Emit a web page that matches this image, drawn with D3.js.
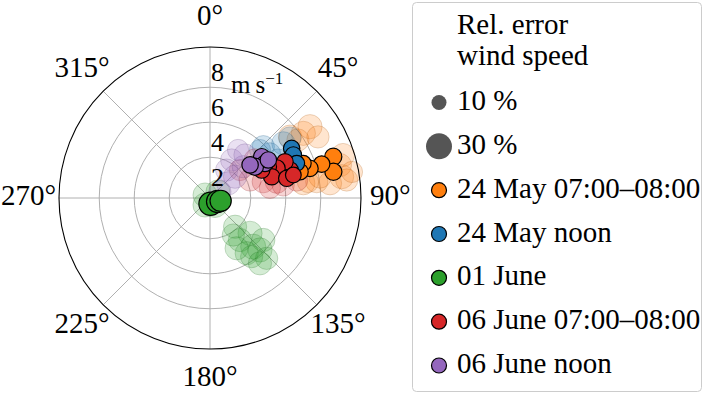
<!DOCTYPE html>
<html>
<head>
<meta charset="utf-8">
<script src="https://d3js.org/d3.v7.min.js"></script>
<style>
  html, body { margin: 0; padding: 0; background: #fff; }
  svg { display: block; font-family: 'Liberation Serif', 'DejaVu Serif', serif; }
</style>
</head>
<body>
<svg id="chart" width="704" height="394"></svg>
<script>
// each point: [direction (deg), wind speed (m/s), rel. error of wind speed (%)]
var may24Morning = [[71.5,7.10,13],[78.0,6.88,13],[73.1,6.34,12],[73.5,5.63,12],[69.6,5.36,11],[73.7,5.03,12]];
var may24MorningFaint = [[52.5,5.43,24],[55.3,6.16,26],[56.6,5.69,22],[75.8,7.33,24],[80.8,7.29,26],[83.0,6.58,24],
  [81.3,5.84,22],[81.0,5.07,24],[82.5,7.55,22],[54.5,6.69,26],[72.1,7.66,24],[79.2,6.07,22],[80.7,5.34,20],
  [79.6,7.92,20],[60.5,6.76,22]];
var may24Noon = [[58.7,5.13,12],[62.7,5.03,12],[68.2,5.01,11]];
var may24NoonFaint = [[46.1,3.90,22],[53.3,4.90,24],[53.3,3.94,20],[53.1,5.38,22],[46.2,3.63,20],[60.8,4.12,22]];
var june01 = [[175,0.0,24],[115,0.15,22],[105,0.30,20]];
var june01Faint = [[138.9,1.85,24],[131.4,2.72,26],[144.5,2.62,24],[138.4,3.39,28],[128.2,3.55,24],[136.1,3.79,26],
  [146.4,3.46,24],[144.6,3.78,22],[152.1,2.92,24],[136.8,4.40,22],[142.6,4.37,24],[147.8,2.17,22],
  [301,0.0,26],[144.5,0.16,28],[53,0.24,26],[215.5,0.16,26]];
var june06Morning = [[70.7,4.52,12],[64.2,4.43,12],[66.0,3.84,13],[61.8,3.45,12],[71.0,3.40,12],[75.6,4.20,12],
  [74.6,4.61,11],[61.6,3.03,12]];
var june06MorningFaint = [[65.8,2.18,22],[73.0,2.85,22],[76.3,3.60,24],[79.9,3.92,22],[78.3,4.73,22],[80.5,3.14,20],
  [47.0,2.01,20],[49.8,3.04,22]];
var june06Noon = [[51.4,3.45,12],[57.8,3.38,12],[55.2,2.80,13],[56.9,3.65,12],[50.5,2.64,12]];
var june06NoonFaint = [[29.7,2.17,22],[30.8,1.53,22],[49.6,1.55,24],[51.2,1.01,24],[57.8,0.34,22],[46.8,2.28,22],
  [39.1,2.84,22],[30.3,2.85,20]];

var seriesNames = ['24 May 07:00\u201308:00', '24 May noon', '01 June', '06 June 07:00\u201308:00', '06 June noon'];
var seriesColors = ['#ff7f0e', '#1f77b4', '#2ca02c', '#d62728', '#9467bd'];
var seriesMain = [may24Morning, may24Noon, june01, june06Morning, june06Noon];
var seriesFaint = [may24MorningFaint, may24NoonFaint, june01Faint, june06MorningFaint, june06NoonFaint];

var thetaTicks = [0, 45, 90, 135, 180, 225, 270, 315];
var rTicks = [2, 4, 6, 8];
var rGrid = [2, 4, 6];
var sizeLegend = [10, 30];

var svg = d3.select('#chart');
var cx = 210, cy = 198, R = 151;

var r = d3.scaleLinear().domain([-0.33, 8.3]).range([0, R]);
var size = d3.scaleSqrt().domain([0, 30]).range([0, 13]);
var rad = function(d) { return d * Math.PI / 180; };

var g = svg.append('g').attr('transform', 'translate(' + cx + ',' + cy + ')');

// grid
g.selectAll('circle.grid').data(rGrid).enter().append('circle')
  .attr('r', function(d) { return r(d); })
  .attr('fill', 'none').attr('stroke', '#b0b0b0').attr('stroke-width', 1);

g.selectAll('line.spoke').data(thetaTicks).enter().append('line')
  .attr('x1', 0).attr('y1', 0)
  .attr('x2', function(d) { return d3.pointRadial(rad(d), R)[0]; })
  .attr('y2', function(d) { return d3.pointRadial(rad(d), R)[1]; })
  .attr('stroke', '#b0b0b0').attr('stroke-width', 1);

// points
var plot = g.append('g');
seriesFaint.forEach(function(pts, i) {
  var c = seriesColors[i];
  plot.append('g').selectAll('circle').data(pts).enter().append('circle')
    .attr('cx', function(d) { return d3.pointRadial(rad(d[0]), r(d[1]))[0]; })
    .attr('cy', function(d) { return d3.pointRadial(rad(d[0]), r(d[1]))[1]; })
    .attr('r', function(d) { return size(d[2]); })
    .attr('fill', c).attr('fill-opacity', 0.2)
    .attr('stroke', d3.color(c).darker(1.2)).attr('stroke-opacity', 0.22);
});
seriesMain.forEach(function(pts, i) {
  plot.append('g').selectAll('circle').data(pts).enter().append('circle')
    .attr('cx', function(d) { return d3.pointRadial(rad(d[0]), r(d[1]))[0]; })
    .attr('cy', function(d) { return d3.pointRadial(rad(d[0]), r(d[1]))[1]; })
    .attr('r', function(d) { return size(d[2]); })
    .attr('fill', seriesColors[i])
    .attr('stroke', '#000').attr('stroke-width', 1.2);
});

// outer frame
g.append('circle').attr('r', R).attr('fill', 'none').attr('stroke', '#000').attr('stroke-width', 1.1);

// radial labels
g.selectAll('text.rlab').data(rTicks).enter().append('text')
  .attr('x', 1).attr('y', function(d) { return -r(d) + 29; })
  .attr('font-size', 26).text(function(d) { return d; });

var unit = g.append('text').attr('x', 21).attr('y', -105).attr('font-size', 25);
unit.append('tspan').text('m\u2009s');
unit.append('tspan').attr('dy', -9).attr('font-size', 17).text('\u22121');

// angle labels
thetaTicks.forEach(function(a) {
  var t = g.append('text').attr('font-size', 29).attr('text-anchor', 'middle').text(a + '\u00b0');
  var w = t.node().getComputedTextLength();
  var s = Math.sin(rad(a));
  var D = Math.abs(s) > 0.9 ? 160 + w / 2 : 181;
  var p = d3.pointRadial(rad(a), D);
  var x = Math.max(p[0], w / 2 - cx + 1);   // keep 270° inside the page
  var y = Math.max(p[1] + 7, 25 - cy);
  t.attr('x', x).attr('y', y);
});

// legend
var lg = svg.append('g');
lg.append('rect').attr('x', 412.5).attr('y', 2.5).attr('width', 289).attr('height', 389).attr('rx', 4)
  .attr('fill', '#fff').attr('stroke', '#cccccc').attr('stroke-width', 1);
lg.append('text').attr('x', 457).attr('y', 34).attr('font-size', 29).text('Rel. error');
lg.append('text').attr('x', 457).attr('y', 65).attr('font-size', 29).text('wind speed');

var rows = sizeLegend.map(function(v) { return { label: v + ' %', rr: size(v), fill: '#555', stroke: 'none' }; })
  .concat(seriesNames.map(function(n, i) { return { label: n, rr: 7.5, fill: seriesColors[i], stroke: '#000' }; }));
var rowY = d3.scaleLinear().domain([0, rows.length - 1]).range([110, 373]);

rows.forEach(function(d, i) {
  var y = rowY(i);
  lg.append('circle').attr('cx', 439).attr('cy', y - 7.5).attr('r', d.rr)
    .attr('fill', d.fill).attr('stroke', d.stroke).attr('stroke-width', 1.2);
  lg.append('text').attr('x', 457).attr('y', y).attr('font-size', 29).text(d.label);
});
</script>
</body>
</html>
